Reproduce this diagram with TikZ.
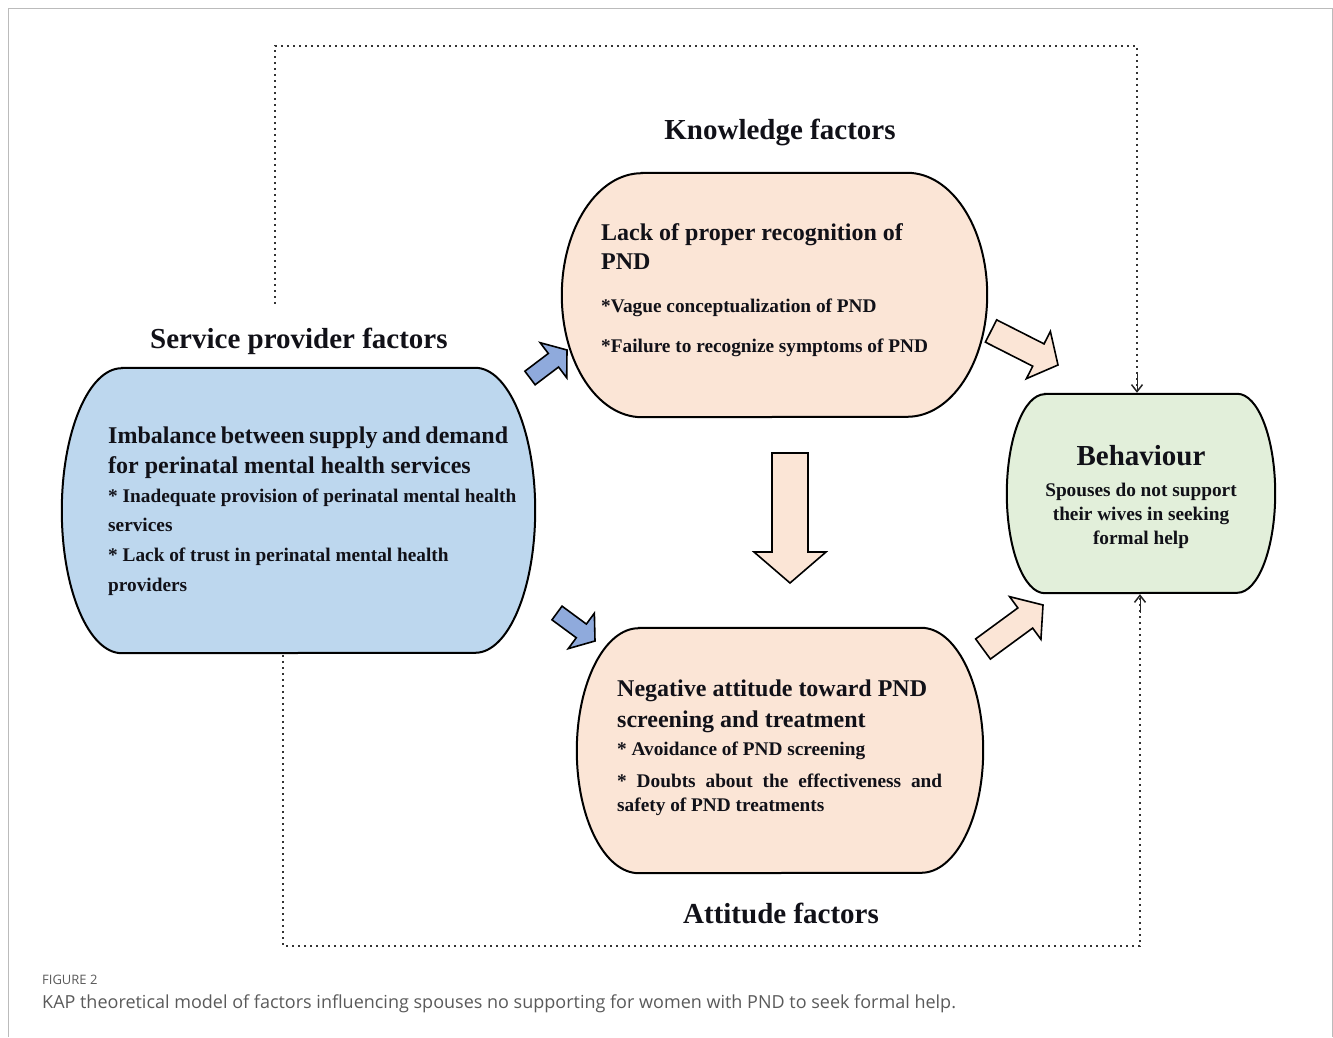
\documentclass[tikz,border=0pt]{standalone}
\usepackage{fontspec}
\setmainfont{Liberation Serif}
\newfontfamily\capfont{Open Sans}
\usetikzlibrary{calc,arrows.meta}
\definecolor{bluebox}{HTML}{BDD7EE}
\definecolor{peach}{HTML}{FBE5D6}
\definecolor{greenbox}{HTML}{E2EFDA}
\definecolor{bluearr}{HTML}{8FAADC}
\definecolor{framegray}{HTML}{BBBBBB}
\definecolor{capgray}{HTML}{5A5A5A}
\definecolor{txt}{HTML}{111118}
\newcommand{\fbig}{\fontsize{29}{34}\selectfont\bfseries}
\newcommand{\fttl}{\fontsize{24}{29}\selectfont\bfseries}
\newcommand{\fbul}{\fontsize{19.3}{24}\selectfont\bfseries}
\newcommand{\barrelshape}[4]{%
  \draw[boxline, fill=#4] ($(#1.north west)+(#2,0)$) -- ($(#1.north east)+(-#2,0)$)
    arc[start angle=90,end angle=-90,x radius=#2,y radius=#3]
    -- ($(#1.south west)+(#2,0)$)
    arc[start angle=270,end angle=90,x radius=#2,y radius=#3] -- cycle;}
\newcommand{\blockarrow}[6]{%
  \coordinate (ba-h) at ($(#2)!#5!(#1)$);
  \draw[arrline, fill=#6]
    ($(#1)!#3!90:(#2)$) -- ($(ba-h)!#3!90:(#2)$) -- ($(ba-h)!#4!90:(#2)$)
    -- (#2) -- ($(ba-h)!#4!-90:(#2)$) -- ($(ba-h)!#3!-90:(#2)$)
    -- ($(#1)!#3!-90:(#2)$) -- cycle;}
\begin{document}
\begin{tikzpicture}[x=1pt,y=1pt,
  boxline/.style={line width=2pt, draw=black},
  arrline/.style={line width=1.6pt, draw=black, line join=miter},
  region/.style={draw=none, inner sep=0, minimum width=#1},
  tx/.style={inner sep=0, anchor=base west, text=txt},
  txc/.style={inner sep=0, anchor=base, text=txt},
  dotline/.style={draw=black!80, line width=2.3pt, dash pattern=on 2.2pt off 3.8pt},
  tipv/.style={-{Straight Barb[length=7pt,width=11pt,line width=1.5pt]}}
]
\useasboundingbox (0,0) rectangle (1333,1037);
% frame
\draw[framegray, line width=1pt] (8,0) -- (8,1028) -- (1332,1028) -- (1332,0);

% region nodes
\node[region=425pt, minimum height=244pt] (know) at (774.5,742) {};
\node[region=473pt, minimum height=285pt] (serv) at (298.5,526.5) {};
\node[region=406pt, minimum height=245pt] (att) at (780,286.5) {};
\node[region=268pt, minimum height=199pt] (beh) at (1141,543.5) {};

% dotted feedback lines
\coordinate (d1) at (275,733);
\coordinate (d1c) at (1137,991);
\coordinate (d2) at (283,382);
\coordinate (d2c) at (1140,91);
\draw[dotline] (d1) |- (d1c) -- ([yshift=4pt]d1c |- beh.north);
\draw[dotline] (d2) |- (d2c) -- ([yshift=-4pt]d2c |- beh.south);
\draw[tipv, black!85] ([yshift=20pt]d1c |- beh.north) -- ([yshift=1pt]d1c |- beh.north);
\draw[tipv, black!85] ([yshift=-20pt]d2c |- beh.south) -- ([yshift=-1pt]d2c |- beh.south);

% boxes
\barrelshape{know}{80}{122}{peach}
\barrelshape{serv}{60}{142.5}{bluebox}
\barrelshape{att}{62}{122.5}{peach}
\barrelshape{beh}{38}{99.5}{greenbox}

% block arrows
\coordinate (a1t) at (530,659); \coordinate (a1h) at (567,687);
\coordinate (a2t) at (557,424); \coordinate (a2h) at (595,396);
\coordinate (a3t) at (991,706); \coordinate (a3h) at (1058,672);
\coordinate (a4t) at (983,388); \coordinate (a4h) at (1043,432);
\coordinate (a5t) at (790,584); \coordinate (a5h) at (790,454);
\blockarrow{a1t}{a1h}{8.5pt}{22pt}{17pt}{bluearr}
\blockarrow{a2t}{a2h}{8.5pt}{22pt}{17pt}{bluearr}
\blockarrow{a3t}{a3h}{12.5pt}{26.5pt}{22pt}{peach}
\blockarrow{a4t}{a4h}{12.5pt}{26.5pt}{22pt}{peach}
\blockarrow{a5t}{a5h}{18pt}{36pt}{31pt}{peach}

% group labels
\node[txc, font=\fbig] (lk) at (780,897) {Knowledge factors};
\node[tx, font=\fbig] (ls) at (150,688) {Service provider factors};
\node[txc, font=\fbig] (la) at (781,114) {Attitude factors};

% knowledge text
\node[tx, font=\fttl] (kt1) at (601,796) {Lack of proper recognition of};
\node[tx, font=\fttl] (kt2) at (601,767) {PND};
\node[tx, font=\fbul] (kb1) at (601,724) {*Vague conceptualization of PND};
\node[tx, font=\fbul] (kb2) at (601,684) {*Failure to recognize symptoms of PND};

% service text
\node[tx, font=\fttl] (bt1) at (108,593) {\makebox[400pt][s]{Imbalance between supply and demand}};
\node[tx, font=\fttl] (bt2) at (108,563) {for perinatal mental health services};
\node[tx, font=\fbul] (bb1) at (108,534) {* Inadequate provision of perinatal mental health};
\node[tx, font=\fbul] (bb2) at (108,505) {services};
\node[tx, font=\fbul] (bb3) at (108,475) {* Lack of trust in perinatal mental health};
\node[tx, font=\fbul] (bb4) at (108,445) {providers};

% attitude text
\node[tx, font=\fttl] (at1) at (617,340) {Negative attitude toward PND};
\node[tx, font=\fttl] (at2) at (617,310) {screening and treatment};
\node[tx, font=\fbul] (ab1) at (617,282) {* Avoidance of PND screening};
\node[tx, font=\fbul] (ab2) at (617,250) {\makebox[325pt][s]{* Doubts about the effectiveness and}};
\node[tx, font=\fbul] (ab3) at (617,226) {safety of PND treatments};

% behaviour text
\node[txc, font=\fbig] (bh0) at (1141,571) {Behaviour};
\node[txc, font=\fbul] (bh1) at (1141,540) {Spouses do not support};
\node[txc, font=\fbul] (bh2) at (1141,516) {their wives in seeking};
\node[txc, font=\fbul] (bh3) at (1141,492) {formal help};

% caption
\node[inner sep=0, anchor=base west, text=capgray, font={\capfont\fontsize{13}{16}\selectfont}] (cap1) at (42,53) {FIGURE 2};
\node[inner sep=0, anchor=base west, text=capgray, font={\capfont\fontsize{18}{21}\selectfont}] (cap2) at (42,29) {KAP theoretical model of factors influencing spouses no supporting for women with PND to seek formal help.};
\end{tikzpicture}
\end{document}
